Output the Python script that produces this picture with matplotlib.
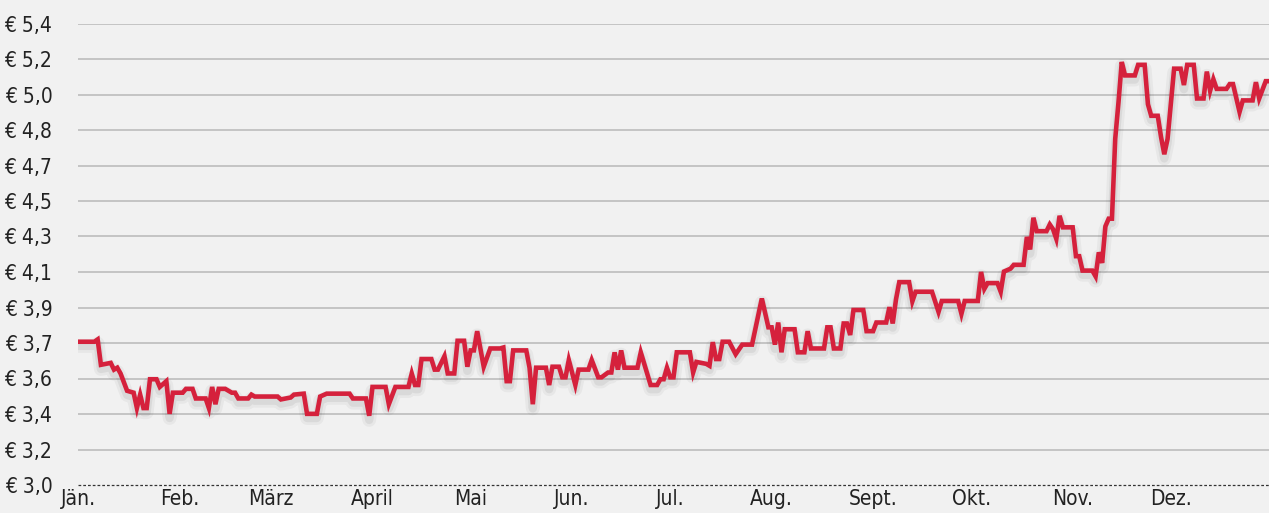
#!/usr/bin/env python3

import numpy as np
import pandas as pd
import matplotlib
matplotlib.use('Agg')
import matplotlib.pyplot as plt
import matplotlib.patheffects as pe
from matplotlib import font_manager as fm

# share price over one year: day offset from 1 Jan, price in euro
day = [0, 5, 6, 7, 10, 11, 12, 13, 15, 17, 18, 19, 20, 21, 22, 24, 25, 27, 28, 29,
	32, 33, 35, 36, 39, 40, 41, 42, 43, 45, 47, 48, 49, 52, 53, 54, 61, 62, 65, 66,
	69, 70, 73, 74, 76, 83, 84, 88, 89, 90, 94, 95, 97, 101, 102, 103, 104, 105, 108, 109,
	110, 112, 113, 115, 116, 118, 119, 120, 121, 122, 124, 126, 129, 130, 131, 132, 133, 137, 138, 139,
	140, 143, 144, 145, 147, 148, 149, 150, 152, 153, 156, 157, 159, 160, 162, 163, 164, 165, 166, 167,
	171, 172, 175, 177, 178, 179, 180, 181, 182, 183, 187, 188, 189, 192, 193, 194, 195, 196, 197, 199,
	201, 203, 206, 209, 211, 212, 213, 214, 215, 216, 219, 220, 222, 223, 224, 228, 229, 230, 231, 233,
	234, 235, 236, 237, 240, 241, 243, 244, 247, 248, 249, 250, 251, 254, 255, 256, 261, 263, 264, 269,
	270, 271, 275, 276, 277, 278, 281, 282, 283, 285, 286, 289, 290, 291, 292, 293, 296, 297, 298, 299,
	300, 301, 304, 305, 306, 307, 310, 311, 312, 313, 314, 315, 316, 317, 318, 319, 320, 323, 324, 326,
	327, 328, 330, 331, 332, 333, 335, 337, 338, 339, 341, 342, 344, 345, 346, 347, 348, 351, 352, 353,
	355, 356, 359, 360, 361, 363, 364]
price = [3.745, 3.745, 3.757, 3.625, 3.635, 3.60, 3.61, 3.58, 3.49, 3.48, 3.40, 3.47, 3.40, 3.40, 3.55, 3.55, 3.51, 3.54, 3.37, 3.48,
	3.48, 3.50, 3.50, 3.45, 3.45, 3.40, 3.51, 3.42, 3.50, 3.50, 3.48, 3.48, 3.45, 3.45, 3.47, 3.46, 3.46, 3.445, 3.455, 3.47,
	3.475, 3.37, 3.37, 3.46, 3.475, 3.475, 3.45, 3.45, 3.36, 3.51, 3.51, 3.42, 3.51, 3.51, 3.58, 3.52, 3.52, 3.655, 3.655, 3.60,
	3.60, 3.67, 3.58, 3.58, 3.75, 3.75, 3.615, 3.70, 3.70, 3.80, 3.615, 3.71, 3.71, 3.715, 3.54, 3.54, 3.70, 3.70, 3.61, 3.42,
	3.61, 3.61, 3.52, 3.615, 3.615, 3.56, 3.56, 3.65, 3.52, 3.60, 3.60, 3.65, 3.56, 3.56, 3.585, 3.585, 3.69, 3.60, 3.70, 3.61,
	3.61, 3.69, 3.52, 3.52, 3.55, 3.55, 3.61, 3.56, 3.56, 3.69, 3.69, 3.585, 3.64, 3.63, 3.62, 3.743, 3.655, 3.655, 3.745, 3.745,
	3.68, 3.73, 3.73, 3.97, 3.82, 3.82, 3.73, 3.845, 3.69, 3.81, 3.81, 3.69, 3.69, 3.80, 3.71, 3.71, 3.82, 3.82, 3.71, 3.71,
	3.84, 3.84, 3.78, 3.91, 3.91, 3.80, 3.80, 3.845, 3.845, 3.925, 3.84, 3.965, 4.055, 4.055, 3.955, 4.005, 4.005, 3.90, 3.957, 3.957,
	3.89, 3.957, 3.957, 4.108, 4.02, 4.05, 4.05, 4.005, 4.11, 4.125, 4.145, 4.145, 4.29, 4.225, 4.39, 4.32, 4.32, 4.355, 4.33, 4.28,
	4.40, 4.34, 4.34, 4.19, 4.19, 4.115, 4.115, 4.085, 4.21, 4.155, 4.345, 4.385, 4.385, 4.80, 4.99, 5.20, 5.13, 5.13, 5.185, 5.185,
	4.98, 4.92, 4.92, 4.81, 4.72, 4.80, 5.165, 5.165, 5.08, 5.185, 5.185, 5.01, 5.01, 5.15, 5.05, 5.11, 5.06, 5.06, 5.085, 5.085,
	4.94, 5.00, 5.00, 5.095, 5.01, 5.10, 5.10]

months = ['Jän.', 'Feb.', 'März', 'April', 'Mai', 'Jun.', 'Jul.', 'Aug.', 'Sept.', 'Okt.', 'Nov.', 'Dez.']
ylabels = ['€ 3,0', '€ 3,2', '€ 3,4', '€ 3,6', '€ 3,7', '€ 3,9', '€ 4,1', '€ 4,3', '€ 4,5', '€ 4,7',
	'€ 4,8', '€ 5,0', '€ 5,2', '€ 5,4']

BG = '#f1f1f1'
RED = '#d5213c'

# pick a narrow face if one is installed, else Roboto (narrower than DejaVu)
font = fm.FontProperties(family='Roboto', size=14.5)
for fam, st in [('Liberation Sans Narrow', 'normal'), ('DejaVu Sans', 'condensed')]:
	fp = fm.FontProperties(family=fam, stretch=st, size=15)
	try:
		path = fm.findfont(fp, fallback_to_default=False)
	except ValueError:
		continue
	if 'Narrow' in path or 'Condensed' in path:
		font = fp
		break

dates = pd.Timestamp('2021-01-01') + pd.to_timedelta(day, unit='D')
ticks = np.linspace(3.0, 5.4, len(ylabels))

fig = plt.figure(figsize=(12.69, 5.13), dpi=100, facecolor=BG)
ax = fig.add_axes([78 / 1269, 28 / 513, 1 - 78 / 1269, 461.5 / 513])
ax.set_facecolor(BG)

for t in ticks[1:]:
	ax.axhline(t, color='#c4c4c4', lw=1.4, zorder=1)
ax.axhline(3.0, color='#333333', lw=0.9, ls=(0, (2.2, 1.6)), zorder=1, clip_on=False)

shadow = [pe.SimpleLineShadow(offset=(0, -3), shadow_color='#000000', alpha=0.04, linewidth=10, joinstyle='round'),
	pe.SimpleLineShadow(offset=(0, -3), shadow_color='#000000', alpha=0.06, linewidth=6, joinstyle='round'),
	pe.Normal()]
ax.plot(dates, price, color=RED, lw=3.3, solid_joinstyle='miter', zorder=3, path_effects=shadow)

ax.set_xlim(pd.Timestamp('2021-01-01'), pd.Timestamp('2021-12-31'))
ax.set_ylim(3.0, 5.4)
ax.set_yticks(ticks)
ax.set_yticklabels(ylabels, fontproperties=font, color='#222222')
ax.set_xticks(pd.date_range('2021-01-01', periods=12, freq='MS'))
ax.set_xticklabels(months, fontproperties=font, color='#222222')
ax.tick_params(axis='y', length=0, pad=18.5)
ax.tick_params(axis='x', length=0, pad=3)
for s in ax.spines.values():
	s.set_visible(False)

fig.savefig('out.png', facecolor=BG)
plt.close()
